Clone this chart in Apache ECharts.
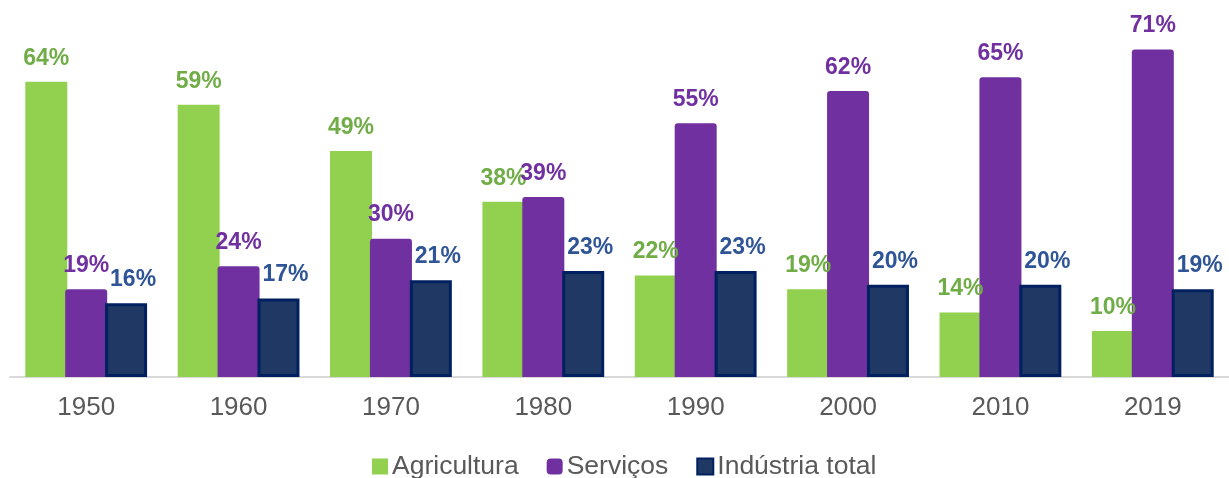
<!DOCTYPE html>
<html>
<head>
<meta charset="utf-8">
<script src="https://cdn.jsdelivr.net/npm/echarts@6/dist/echarts.min.js"></script>
<style>html,body{margin:0;padding:0;background:#fff}#c{width:1229px;height:478px}</style>
</head>
<body>
<div id="c"></div>
<script>
const categories = ['1950','1960','1970','1980','1990','2000','2010','2019'];
const agricultura = [64, 59, 49, 38, 22, 19, 14, 10];
const servicos = [19, 24, 30, 39, 55, 62, 65, 71];
const industria = [16, 17, 21, 23, 23, 20, 20, 19];
const seriesNames = ['Agricultura', 'Serviços', 'Indústria total'];

const chart = echarts.init(document.getElementById('c'), null, {renderer: 'canvas'});
const labelBase = {show: true, position: 'top', distance: 12, fontFamily: 'Liberation Sans, Arial, sans-serif', fontSize: 23, fontWeight: 'bold', formatter: '{c}%'};
chart.setOption({
  animation: false,
  grid: {left: 10, right: -2, top: 8, bottom: 101},
  legend: {
    data: [
      {name: seriesNames[0], icon: 'rect'},
      {name: seriesNames[1], icon: 'roundRect'},
      {name: seriesNames[2], icon: 'rect'}
    ],
    top: 448, left: 367, itemWidth: 16, itemHeight: 16, itemGap: 28,
    textStyle: {fontFamily: 'Liberation Sans, Arial, sans-serif', fontSize: 26.5, color: '#595959', padding: [0,0,0,-1]}
  },
  xAxis: {
    type: 'category', data: categories,
    axisLine: {lineStyle: {color: '#d9d9d9', width: 2}},
    axisTick: {show: false},
    axisLabel: {fontFamily: 'Liberation Sans, Arial, sans-serif', fontSize: 26, color: '#595959', margin: 18}
  },
  yAxis: {type: 'value', min: 0, max: 80, show: false, splitLine: {show: false}},
  series: [
    {name: seriesNames[0], type: 'bar', data: agricultura, barWidth: 42, barGap: '-5%',
     itemStyle: {color: '#92d050'},
     label: Object.assign({}, labelBase, {color: '#70ad47'})},
    {name: seriesNames[1], type: 'bar', data: servicos, barWidth: 42, barGap: '-5%',
     itemStyle: {color: '#7030a0', borderRadius: [3,3,0,0]},
     label: Object.assign({}, labelBase, {color: '#7030a0'})},
    {name: seriesNames[2], type: 'bar', data: industria, barWidth: 42, barGap: '-5%',
     itemStyle: {color: '#203864', borderColor: '#002060', borderWidth: 3},
     label: Object.assign({}, labelBase, {color: '#2f5597', offset: [7, 0]})}
  ]
});
</script>
</body>
</html>
